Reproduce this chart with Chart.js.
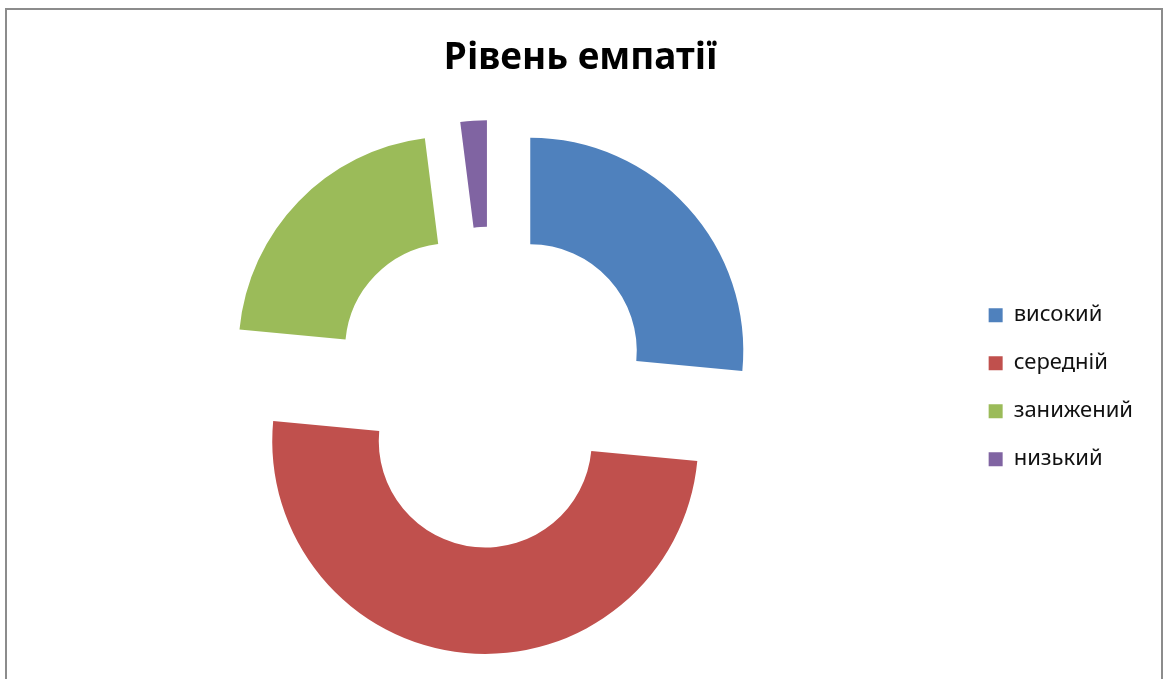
<!DOCTYPE html>
<html>
<head>
<meta charset="utf-8">
<title>Рівень емпатії</title>
<script src="https://cdn.jsdelivr.net/npm/chart.js@4/dist/chart.umd.min.js"></script>
<style>
  html, body { margin: 0; padding: 0; background: #fff; overflow: hidden; }
  #wrap { position: relative; width: 1163px; height: 679px; }
  #frame {
    position: absolute; left: 5px; top: 8px; width: 1154px; height: 720px;
    border: 2px solid #8c8c8c; border-bottom: none;
  }
  #chart { position: absolute; left: 0; top: 0; }
</style>
</head>
<body>
<div id="wrap">
  <div id="frame"></div>
  <canvas id="chart" width="1163" height="679"></canvas>
</div>
<script>
// data (share in %)
const categories = ['високий', 'середній', 'занижений', 'низький'];
const shares = [26.5, 50, 21.5, 2];
const colors = ['#4F81BD', '#C0504D', '#9BBB59', '#8064A2'];

// Excel-style exploded doughnut: push every slice out along its mid angle.
// (the built-in arc offset also grows the radius of wide slices, so do it by hand)
const explodePlugin = {
  id: 'explode',
  afterDatasetsUpdate(chart, args, opts) {
    const dist = opts.distance || 0;
    chart.getDatasetMeta(0).data.forEach(arc => {
      const mid = (arc.startAngle + arc.endAngle) / 2;
      arc.x += Math.cos(mid) * dist;
      arc.y += Math.sin(mid) * dist;
    });
  }
};

new Chart(document.getElementById('chart'), {
  type: 'doughnut',
  data: {
    labels: categories,
    datasets: [{
      data: shares,
      backgroundColor: colors,
      borderWidth: 0,
      hoverOffset: 0,
      clip: false
    }]
  },
  plugins: [explodePlugin],
  options: {
    responsive: false,
    animation: false,
    events: [],
    cutout: '50%',
    radius: 213,
    layout: { padding: { left: 18, right: 20, top: 0, bottom: 52 } },
    plugins: {
      explode: { distance: 54 },
      tooltip: { enabled: false },
      title: {
        display: true,
        text: 'Рівень емпатії',
        color: '#000',
        font: { family: 'Noto Sans', size: 37, weight: 'bold' },
        padding: { top: 36, bottom: 67 }
      },
      legend: {
        position: 'right',
        fullSize: false,
        labels: {
          color: '#111',
          font: { family: 'Noto Sans', size: 22 },
          boxWidth: 14,
          boxHeight: 14,
          padding: 26
        }
      }
    }
  }
});
</script>
</body>
</html>
